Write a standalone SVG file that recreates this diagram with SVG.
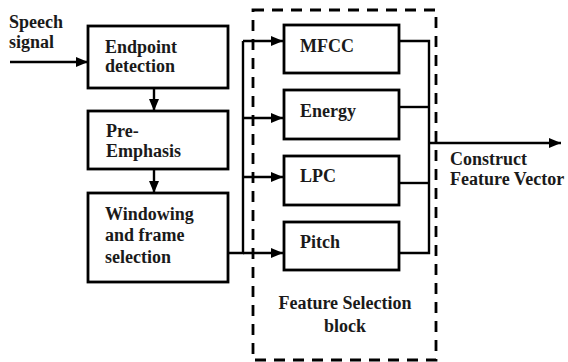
<svg xmlns="http://www.w3.org/2000/svg" width="568" height="362" viewBox="0 0 568 362">
<defs>
<marker id="ah" viewBox="0 0 12 10" refX="12" refY="5" markerWidth="12" markerHeight="10" markerUnits="userSpaceOnUse" orient="auto">
<path d="M0,0 L12,5 L0,10 Z" fill="#000"/>
</marker>
<style>
.box{fill:#fff;stroke:#000;stroke-width:2.8}
.t{font-family:'Liberation Serif','DejaVu Serif',serif;font-weight:bold;font-size:18px;fill:#1a1a1a}
.ln{fill:none;stroke:#000;stroke-width:2.4}
.ar{fill:none;stroke:#000;stroke-width:2.4;marker-end:url(#ah)}
.dash{fill:none;stroke:#000;stroke-width:2.8;stroke-dasharray:11 8}
</style>
</defs>
<rect width="568" height="362" fill="#fff"/>
<g id="fsblock">
<rect class="dash" x="253" y="10" width="183" height="350"/>
<text class="t" x="345" y="309" text-anchor="middle">Feature Selection</text>
<text class="t" x="345" y="332" text-anchor="middle">block</text>
</g>
<g id="connectors">
<line class="ar" x1="10" y1="62" x2="88" y2="62"/>
<line class="ar" x1="154" y1="88" x2="154" y2="111"/>
<line class="ar" x1="154" y1="169" x2="154" y2="193"/>
<polyline class="ln" points="228,253 243,253 243,41"/>
<line class="ar" x1="243" y1="41" x2="283" y2="41"/>
<line class="ar" x1="243" y1="118" x2="283" y2="118"/>
<line class="ar" x1="243" y1="177" x2="283" y2="177"/>
<line class="ar" x1="243" y1="253" x2="283" y2="253"/>
<polyline class="ln" points="399,41 429,41 429,253 399,253"/>
<line class="ln" x1="399" y1="107" x2="429" y2="107"/>
<line class="ln" x1="399" y1="183" x2="429" y2="183"/>
<line class="ar" x1="429" y1="143" x2="561" y2="143"/>
</g>
<g id="speech">
<text class="t" x="9" y="28">Speech</text>
<text class="t" x="9" y="48">signal</text>
</g>
<g id="endpoint">
<rect class="box" x="88" y="26" width="140" height="62"/>
<text class="t" x="105" y="53">Endpoint</text>
<text class="t" x="105" y="72">detection</text>
</g>
<g id="preemphasis">
<rect class="box" x="88" y="111" width="140" height="58"/>
<text class="t" x="106" y="137">Pre-</text>
<text class="t" x="106" y="157">Emphasis</text>
</g>
<g id="windowing">
<rect class="box" x="88" y="193" width="140" height="89"/>
<text class="t" x="105" y="220">Windowing</text>
<text class="t" x="105" y="241">and frame</text>
<text class="t" x="105" y="263">selection</text>
</g>
<g id="mfcc">
<rect class="box" x="284" y="25" width="115" height="48"/>
<text class="t" x="300" y="52">MFCC</text>
</g>
<g id="energy">
<rect class="box" x="284" y="90" width="115" height="49"/>
<text class="t" x="300" y="117">Energy</text>
</g>
<g id="lpc">
<rect class="box" x="284" y="156" width="115" height="49"/>
<text class="t" x="300" y="182">LPC</text>
</g>
<g id="pitch">
<rect class="box" x="284" y="222" width="115" height="48"/>
<text class="t" x="300" y="248">Pitch</text>
</g>
<g id="construct">
<text class="t" x="450" y="165">Construct</text>
<text class="t" x="450" y="185">Feature Vector</text>
</g>
</svg>
